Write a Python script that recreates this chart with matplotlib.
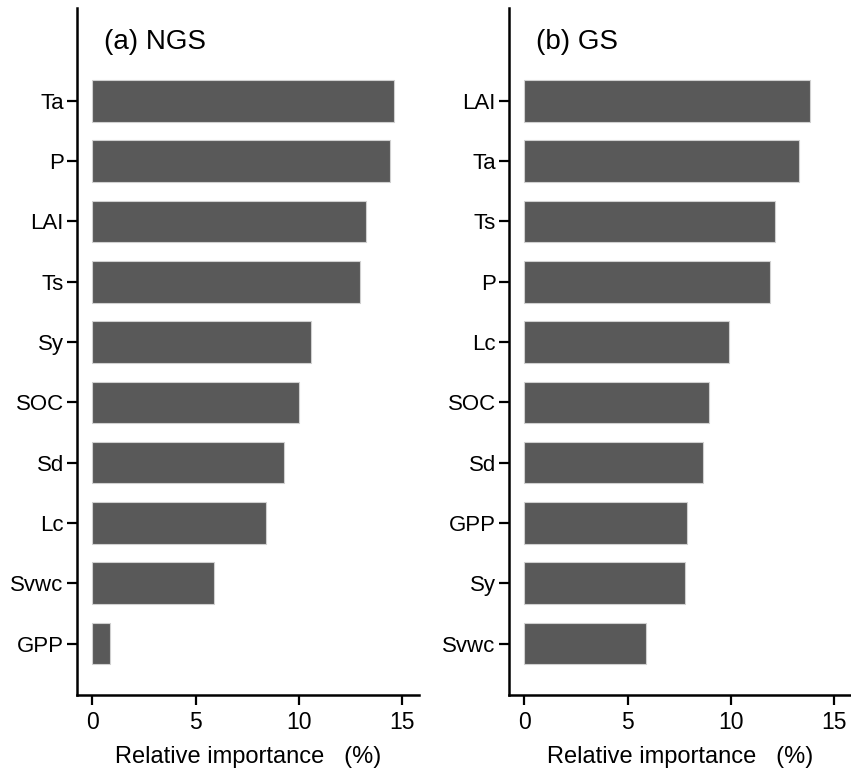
import matplotlib
matplotlib.use('Agg')
import matplotlib.pyplot as plt

plt.rcParams['font.family'] = ['Liberation Sans', 'DejaVu Sans']

# (a) NGS
ngs_names = ['Ta', 'P', 'LAI', 'Ts', 'Sy', 'SOC', 'Sd', 'Lc', 'Svwc', 'GPP']
ngs_vals = [14.59, 14.38, 13.24, 12.95, 10.6, 10.0, 9.28, 8.41, 5.89, 0.85]

# (b) GS
gs_names = ['LAI', 'Ta', 'Ts', 'P', 'Lc', 'SOC', 'Sd', 'GPP', 'Sy', 'Svwc']
gs_vals = [13.8, 13.27, 12.14, 11.87, 9.92, 8.95, 8.63, 7.89, 7.76, 5.90]

xticks = [0, 5, 10, 15]

W, H = 851, 769
fig = plt.figure(figsize=(W / 100, H / 100), dpi=100)

# axes boxes in pixels: left, right, top, bottom
boxes = [(77, 419, 8, 695), (509, 851, 8, 695)]
panels = [('(a) NGS', ngs_names, ngs_vals), ('(b) GS', gs_names, gs_vals)]

for (l, r, t, b), (title, names, vals) in zip(boxes, panels):
    ax = fig.add_axes([l / W, 1 - b / H, (r - l) / W, (b - t) / H])
    y = list(range(len(names)))
    ax.barh(y, vals, height=0.69, color='#595959', edgecolor='#d0d0d0', linewidth=0.8)
    ax.set_yticks(y)
    ax.set_yticklabels(names, fontsize=16)
    ax.set_ylim(len(names) - 1 + 0.854, -1.54)
    ax.set_xlim(-0.73, 15.8)
    ax.set_xticks(xticks)
    ax.set_xticklabels([str(v) for v in xticks], fontsize=16.5)
    for s in ['top', 'right']:
        ax.spines[s].set_visible(False)
    for s in ['left', 'bottom']:
        ax.spines[s].set_linewidth(1.8)
    ax.tick_params(axis='both', length=7.5, width=1.6, pad=2)
    ax.tick_params(axis='x', pad=4)
    ax.set_xlabel('Relative importance   (%)', fontsize=17, labelpad=9)
    ax.text(0.078, 0.95, title, transform=ax.transAxes, fontsize=20, va='center', ha='left')

fig.savefig('out.png', dpi=100)
